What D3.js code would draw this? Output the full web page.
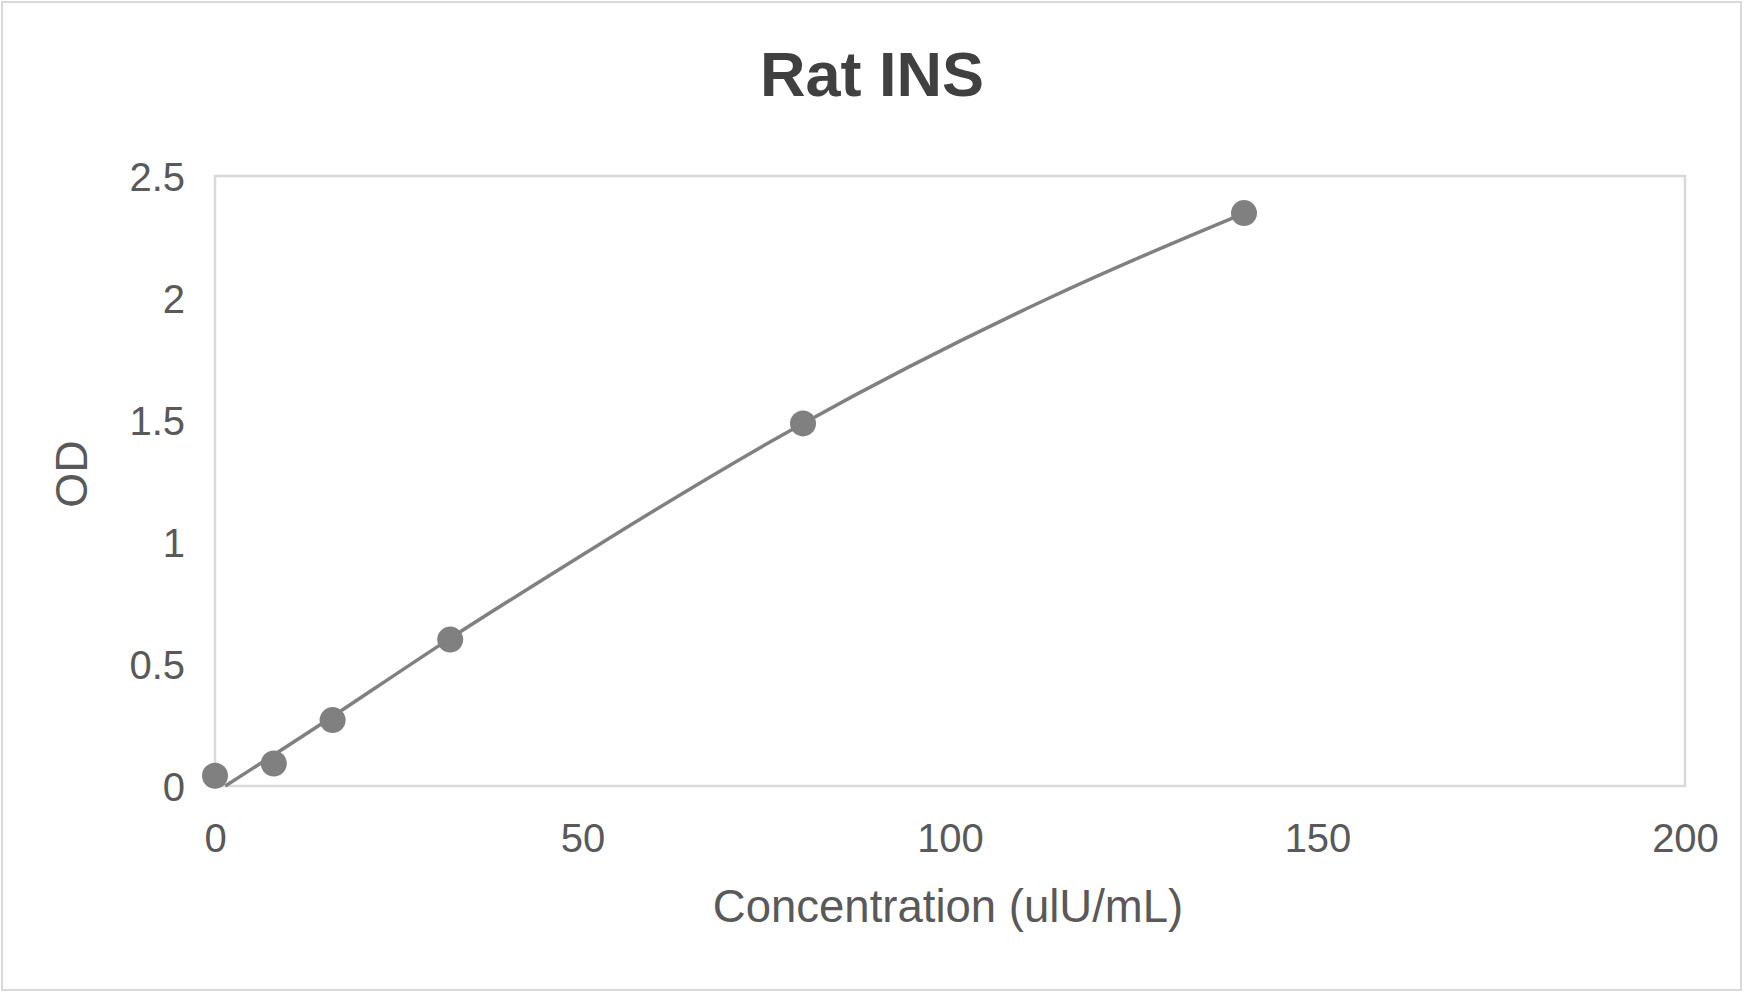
<!DOCTYPE html>
<html>
<head>
<meta charset="utf-8">
<script src="https://cdn.jsdelivr.net/npm/d3@7"></script>
<style>
  body { margin: 0; background: #fff; }
  text { font-family: Arial, "Liberation Sans", sans-serif; }
</style>
</head>
<body>
<div id="chart"></div>
<script>
// measured standards
const concentration = [0, 8, 16, 32, 80, 140];
const od = [0.042, 0.092, 0.27, 0.6, 1.486, 2.348];

// trendline
const trendX = [1.4, 16, 32, 52, 80, 113.5, 140];
const trendY = [0, 0.285, 0.605, 0.985, 1.486, 2.0, 2.347];

const xTicks = [0, 50, 100, 150, 200];
const yTicks = [0, 0.5, 1, 1.5, 2, 2.5];

const W = 1744, H = 994;
const margin = {top: 176, right: 59, bottom: 208, left: 215};
const width = W - margin.left - margin.right,
    height = H - margin.top - margin.bottom;

const svg = d3.select("#chart")
    .append("svg")
    .attr("width", W)
    .attr("height", H);

// outer chart border
svg.append("rect")
    .attr("x", 2).attr("y", 2)
    .attr("width", W - 5).attr("height", H - 6)
    .attr("fill", "#fff")
    .attr("stroke", "#d9d9d9")
    .attr("stroke-width", 2);

svg.append("text")
    .attr("x", 872).attr("y", 96)
    .attr("text-anchor", "middle")
    .attr("font-size", 63)
    .attr("font-weight", "bold")
    .attr("fill", "#404040")
    .text("Rat INS");

const g = svg.append("g")
    .attr("transform", "translate(" + margin.left + "," + margin.top + ")");

const x = d3.scaleLinear().domain([0, 200]).range([0, width]);
const y = d3.scaleLinear().domain([0, 2.5]).range([height, 0]);

// plot area box
g.append("rect")
    .attr("width", width).attr("height", height)
    .attr("fill", "none")
    .attr("stroke", "#d9d9d9")
    .attr("stroke-width", 2.5);

const xAxis = g.append("g")
    .attr("transform", "translate(0," + height + ")")
    .call(d3.axisBottom(x).tickValues(xTicks).tickSize(0).tickPadding(0).tickFormat(d3.format("")));
xAxis.select(".domain").remove();
xAxis.selectAll("text")
    .attr("y", 66).attr("dy", null)
    .attr("font-size", 40)
    .attr("font-family", "Arial, 'Liberation Sans', sans-serif")
    .attr("fill", "#595959");

const yAxis = g.append("g")
    .call(d3.axisLeft(y).tickValues(yTicks).tickSize(0).tickPadding(0).tickFormat(d3.format("")));
yAxis.select(".domain").remove();
yAxis.selectAll("text")
    .attr("x", -30).attr("dy", "0.36em")
    .attr("font-size", 40)
    .attr("font-family", "Arial, 'Liberation Sans', sans-serif")
    .attr("fill", "#595959");

svg.append("text")
    .attr("x", 948).attr("y", 922)
    .attr("text-anchor", "middle")
    .attr("font-size", 45.5)
    .attr("fill", "#595959")
    .text("Concentration (ulU/mL)");

svg.append("text")
    .attr("transform", "translate(87,474) rotate(-90)")
    .attr("text-anchor", "middle")
    .attr("font-size", 45)
    .attr("fill", "#595959")
    .text("OD");

const trend = trendX.map((v, i) => [v, trendY[i]]);
g.append("path")
    .datum(trend)
    .attr("fill", "none")
    .attr("stroke", "#808080")
    .attr("stroke-width", 3.5)
    .attr("d", d3.line().x(d => x(d[0])).y(d => y(d[1])).curve(d3.curveNatural));

g.selectAll("circle")
    .data(concentration.map((c, i) => [c, od[i]]))
    .enter()
    .append("circle")
    .attr("cx", d => x(d[0]))
    .attr("cy", d => y(d[1]))
    .attr("r", 13)
    .style("fill", "#808080");
</script>
</body>
</html>
